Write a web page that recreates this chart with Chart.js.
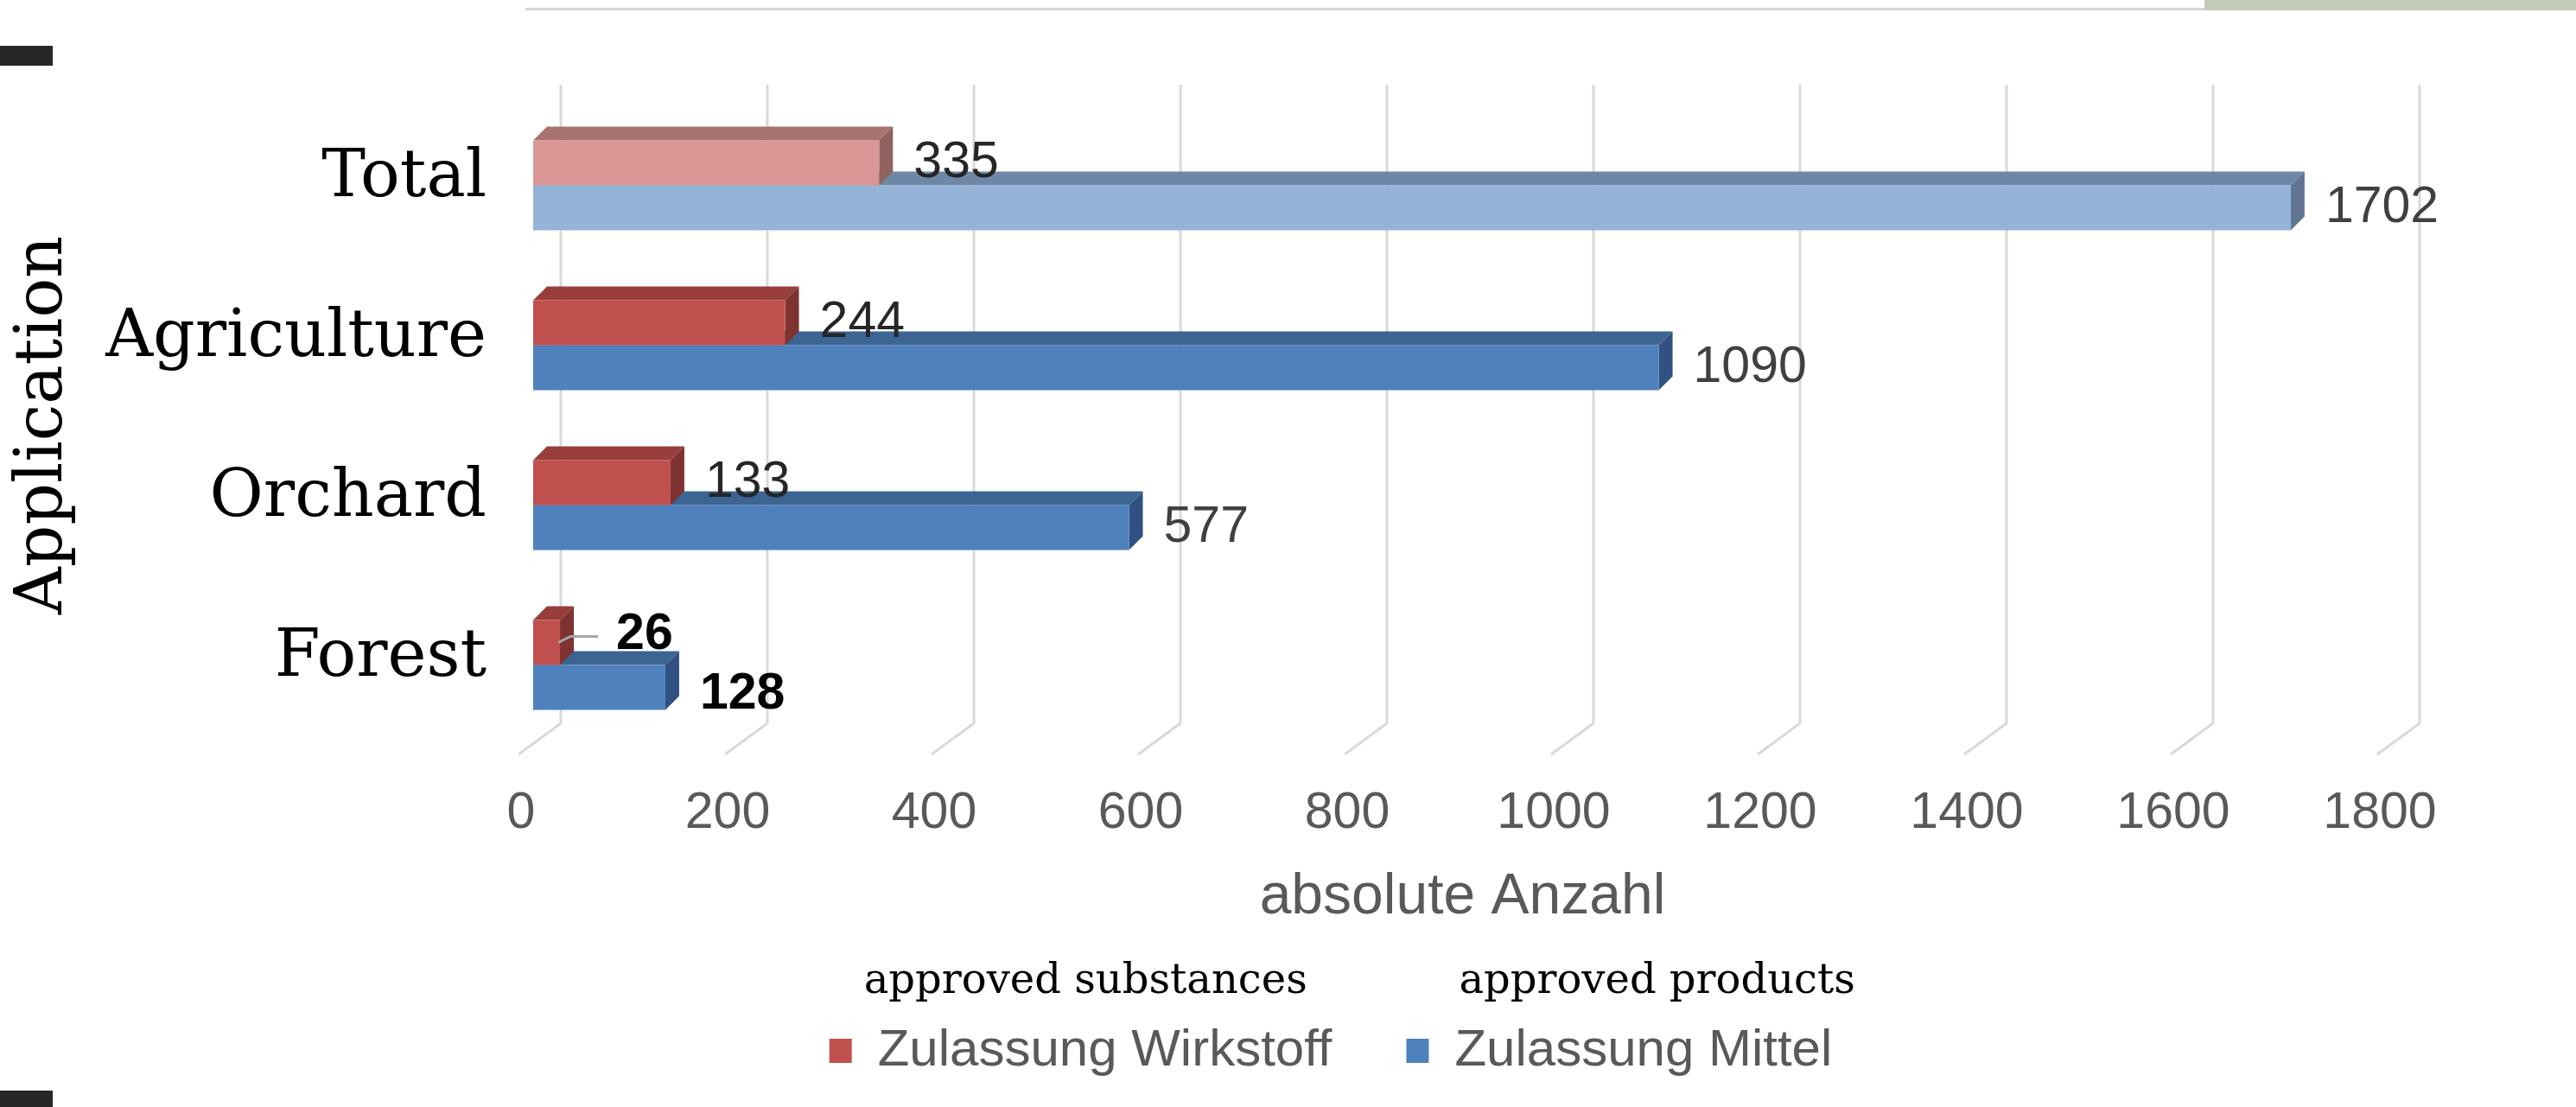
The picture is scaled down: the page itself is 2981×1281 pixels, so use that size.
<!DOCTYPE html>
<html>
<head>
<meta charset="utf-8">
<title>Zulassungen nach Anwendung</title>
<script src="https://cdn.jsdelivr.net/npm/chart.js@4/dist/chart.umd.min.js"></script>
<style>
  body { margin: 0; background: #fff; }
  #wrap { position: relative; width: 2981px; height: 1281px; overflow: hidden; }
  #chart { position: absolute; left: 0; top: 0; }
  .deco { position: absolute; }
</style>
</head>
<body>
<div id="wrap">
  <div class="deco" style="left:608px;top:9px;width:1943px;height:3px;background:#d6d6d6"></div>
  <div class="deco" style="left:2551px;top:0;width:430px;height:12px;background:#c3cbb8"></div>
  <div class="deco" style="left:0;top:53px;width:61px;height:23px;background:#262828"></div>
  <div class="deco" style="left:0;top:1262px;width:61px;height:19px;background:#262828"></div>
  <canvas id="chart" width="2981" height="1281"></canvas>
</div>
<script>
// data
const categories = ["Total", "Agriculture", "Orchard", "Forest"];
const substances = [335, 244, 133, 26];
const products = [1702, 1090, 577, 128];
const seriesNames = ["Zulassung Wirkstoff", "Zulassung Mittel"];
const subLabels = ["approved substances", "approved products"];
const yTitle = "Application";
const xTitle = "absolute Anzahl";

// colours: [normal, light (Total)]
const palettes = [
  [
    { front: "#c0504d", top: "#973e3b", side: "#7e3331" },
    { front: "#d99694", top: "#a87370", side: "#8f625f" },
  ],
  [
    { front: "#4f81bd", top: "#3c6594", side: "#2f5282" },
    { front: "#95b3d7", top: "#6f87a7", side: "#5f7592" },
  ],
];

const sans = "'Liberation Sans', Arial, sans-serif";
const serif = "'DejaVu Serif', serif";
const DEPTH = 16;
const LEGEND_SHIFT = 156;

// back wall grid lines + top/side faces of the 3d bars
const boxFaces = {
  id: "boxFaces",
  beforeDatasetsDraw(chart) {
    const { ctx, chartArea } = chart;
    const xs = chart.scales.x;

    ctx.save();
    ctx.strokeStyle = "#d9d9d9";
    ctx.lineWidth = 3;
    xs.ticks.forEach((t) => {
      const px = xs.getPixelForValue(t.value);
      ctx.beginPath();
      ctx.moveTo(px + 32, chartArea.top - 24);
      ctx.lineTo(px + 32, chartArea.bottom - 25);
      ctx.lineTo(px - 17, chartArea.bottom + 11);
      ctx.stroke();
    });

    for (let di = chart.data.datasets.length - 1; di >= 0; di--) {
      const meta = chart.getDatasetMeta(di);
      meta.data.forEach((bar, i) => {
        const pal = palettes[di][i === 0 ? 1 : 0];
        const { x, y, base, height } = bar.getProps(["x", "y", "base", "height"], true);
        const top = y - height / 2;
        const bottom = y + height / 2;

        ctx.fillStyle = pal.top;
        ctx.beginPath();
        ctx.moveTo(base, top);
        ctx.lineTo(base + DEPTH, top - DEPTH);
        ctx.lineTo(x + DEPTH, top - DEPTH);
        ctx.lineTo(x, top);
        ctx.closePath();
        ctx.fill();

        ctx.fillStyle = pal.side;
        ctx.beginPath();
        ctx.moveTo(x, top);
        ctx.lineTo(x + DEPTH, top - DEPTH);
        ctx.lineTo(x + DEPTH, bottom - DEPTH);
        ctx.lineTo(x, bottom);
        ctx.closePath();
        ctx.fill();
      });
    }
    ctx.restore();
  },
};

// value labels next to each bar
const valueLabels = {
  id: "valueLabels",
  afterDatasetsDraw(chart, args, opts) {
    const ctx = chart.ctx;
    ctx.save();
    ctx.textAlign = "left";
    ctx.textBaseline = "middle";
    chart.data.datasets.forEach((ds, di) => {
      chart.getDatasetMeta(di).data.forEach((bar, i) => {
        const { x, y } = bar.getProps(["x", "y"], true);
        const sp = opts.special[di + "-" + i] || {};
        const lx = x + opts.gap + (sp.dx || 0);
        const ly = y + (sp.dy || 0);
        if (sp.leader) {
          ctx.strokeStyle = "#a6a6a6";
          ctx.lineWidth = 3;
          ctx.beginPath();
          ctx.moveTo(x - 2, y);
          ctx.lineTo(x + 12, ly + 2);
          ctx.lineTo(x + 44, ly + 2);
          ctx.stroke();
        }
        ctx.font = (sp.bold ? "bold " : "") + "59px " + sans;
        ctx.fillStyle = sp.bold ? "#000000" : opts.colors[di];
        ctx.fillText(String(ds.data[i]), lx, ly);
      });
    });
    ctx.restore();
  },
};

// legend sits off-centre under the plot; english captions above its entries
const legendExtras = {
  id: "legendExtras",
  afterLayout(chart) {
    chart.legend.left += LEGEND_SHIFT;
    chart.legend.right += LEGEND_SHIFT;
  },
  afterDraw(chart) {
    const ctx = chart.ctx;
    const boxes = chart.legend.legendHitBoxes || [];
    const shift = [40, 61];
    ctx.save();
    ctx.fillStyle = "#000000";
    ctx.font = "48px " + serif;
    ctx.textAlign = "left";
    ctx.textBaseline = "middle";
    boxes.forEach((b, i) => {
      ctx.fillText(subLabels[i], b.left + shift[i], b.top + b.height / 2 - 79);
    });
    ctx.restore();
  },
};

new Chart(document.getElementById("chart"), {
  type: "bar",
  data: {
    labels: categories,
    datasets: [
      {
        label: seriesNames[0],
        data: substances,
        backgroundColor: (c) =>
          c.type === "data" && c.dataIndex === 0 ? palettes[0][1].front : palettes[0][0].front,
        borderWidth: 0,
      },
      {
        label: seriesNames[1],
        data: products,
        backgroundColor: (c) =>
          c.type === "data" && c.dataIndex === 0 ? palettes[1][1].front : palettes[1][0].front,
        borderWidth: 0,
      },
    ],
  },
  options: {
    indexAxis: "y",
    responsive: false,
    animation: false,
    categoryPercentage: 0.5625,
    barPercentage: 1,
    layout: { padding: { left: 0, right: 213, top: 122, bottom: 25 } },
    scales: {
      x: {
        min: 0,
        max: 1800,
        ticks: {
          stepSize: 200,
          padding: 44,
          labelOffset: -14,
          color: "#595959",
          font: { family: sans, size: 59 },
          callback: (v) => String(v),
        },
        grid: { display: false, drawTicks: false },
        border: { display: false },
        title: {
          display: true,
          text: xTitle,
          color: "#595959",
          font: { family: sans, size: 66 },
          padding: { top: 0, bottom: 22 },
        },
        afterFit: (s) => {
          s.height = 238;
        },
      },
      y: {
        ticks: {
          padding: 54,
          labelOffset: -7,
          color: "#000000",
          font: { family: serif, size: 76 },
        },
        grid: { display: false, drawTicks: false },
        border: { display: false },
        title: {
          display: true,
          text: yTitle,
          color: "#000000",
          font: { family: serif, size: 76 },
          padding: { top: 6, bottom: 0 },
        },
        afterFit: (s) => {
          s.width = 617;
        },
      },
    },
    plugins: {
      legend: {
        position: "bottom",
        labels: {
          boxWidth: 26,
          boxHeight: 28,
          padding: 86,
          color: "#595959",
          font: { family: sans, size: 60 },
          generateLabels: (chart) =>
            Chart.defaults.plugins.legend.labels
              .generateLabels(chart)
              .map((item, i) => ({ ...item, fillStyle: palettes[i][0].front })),
        },
      },
      tooltip: { enabled: false },
      valueLabels: {
        gap: 40,
        colors: ["#262626", "#404040"],
        special: {
          "0-3": { dx: 25, dy: -9, bold: true, leader: true },
          "1-3": { dy: 8, bold: true },
        },
      },
    },
  },
  plugins: [boxFaces, valueLabels, legendExtras],
});
</script>
</body>
</html>
